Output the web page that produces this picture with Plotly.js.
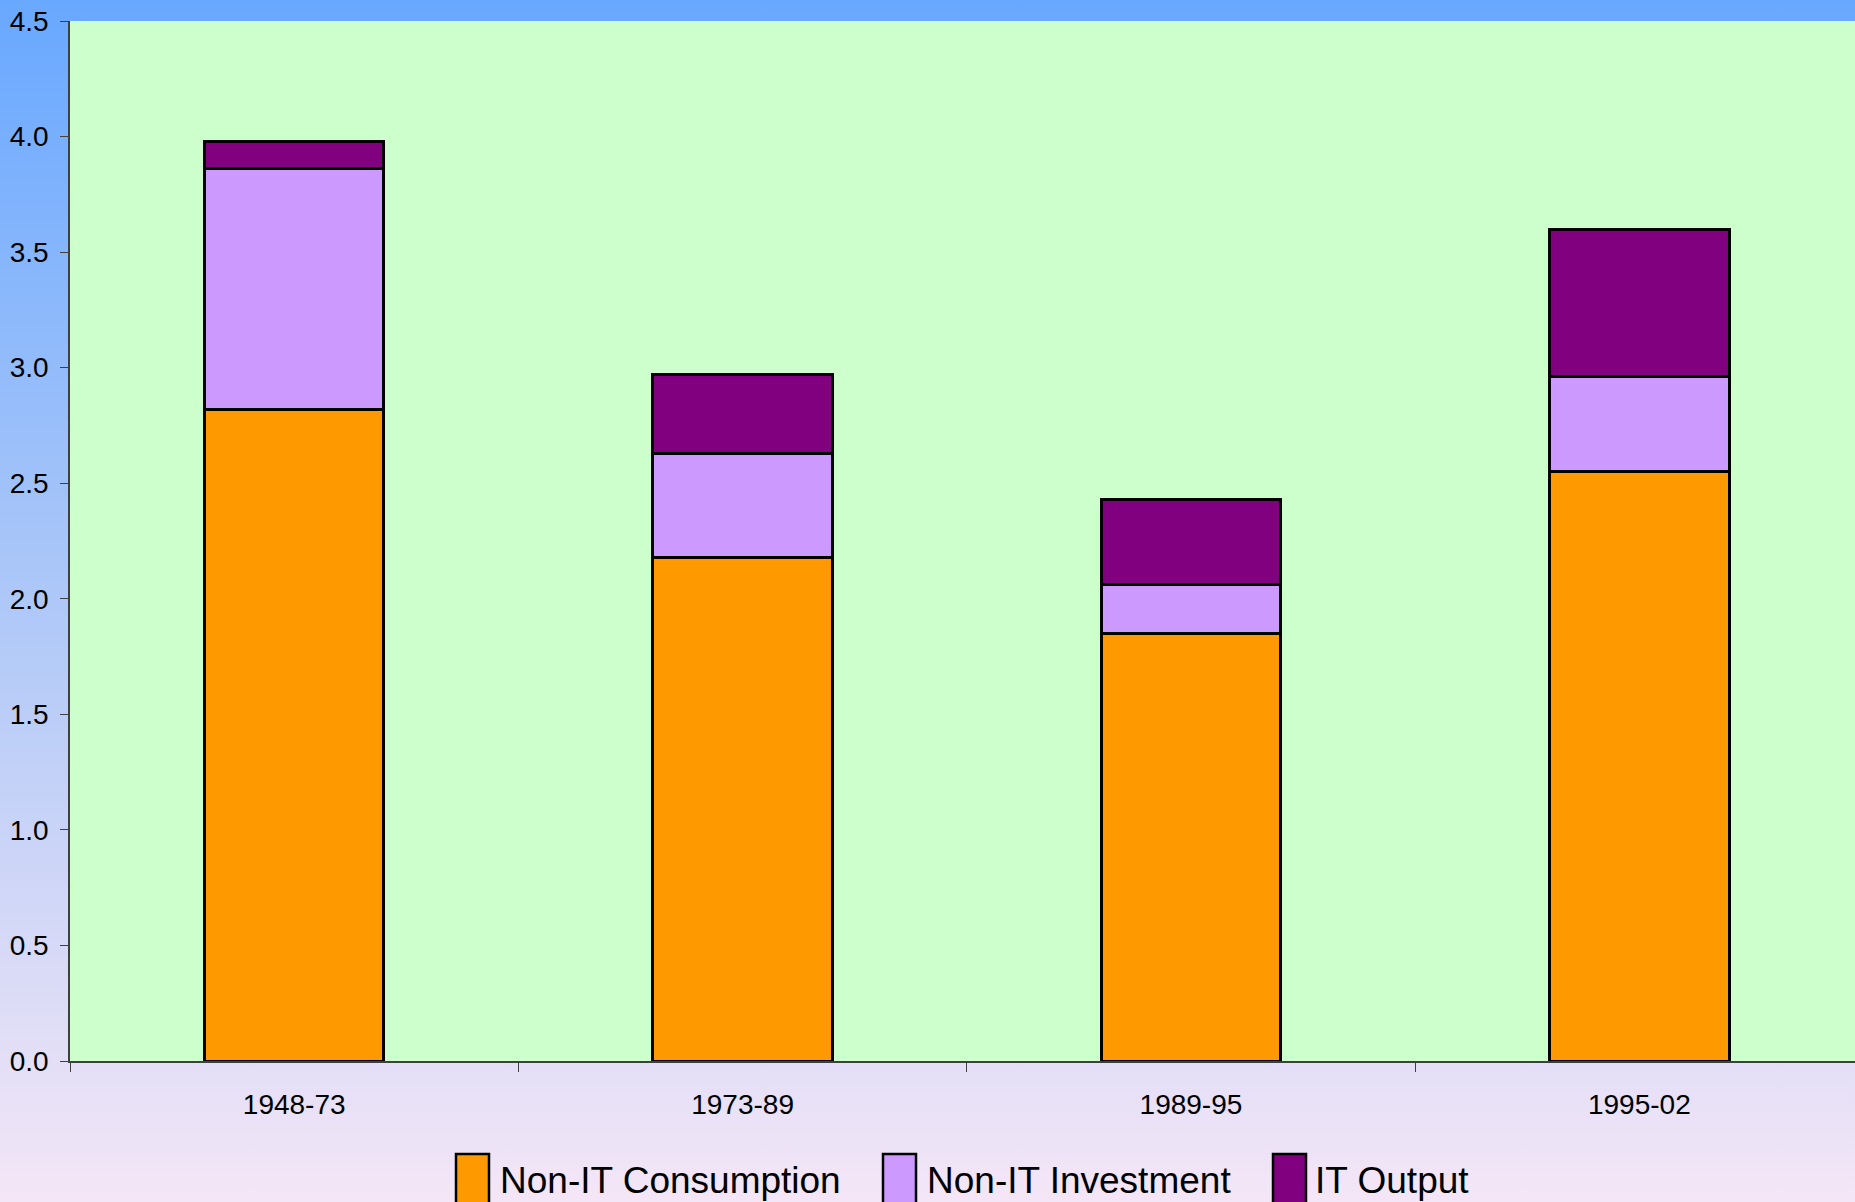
<!DOCTYPE html>
<html>
<head>
<meta charset="utf-8">
<script src="https://cdn.plot.ly/plotly-3.0.1.min.js"></script>
<style>
  html, body { margin: 0; padding: 0; }
  body { width: 1855px; height: 1202px; overflow: hidden;
         background: linear-gradient(to bottom, #68a8ff 0%, #aec8f8 50%, #f4e6f6 100%); }
  #chart { width: 1855px; height: 1202px; }
</style>
</head>
<body>
<div id="chart"></div>
<script>
const categories = ['1948-73', '1973-89', '1989-95', '1995-02'];
const seriesNames = ['Non-IT Consumption', 'Non-IT Investment', 'IT Output'];
const nonITConsumption = [2.82, 2.18, 1.85, 2.55];
const nonITInvestment = [1.04, 0.45, 0.21, 0.41];
const itOutput = [0.12, 0.34, 0.37, 0.64];
const seriesColors = ['#ff9900', '#cc99ff', '#800080'];
const yTickVals = [0, 0.5, 1, 1.5, 2, 2.5, 3, 3.5, 4, 4.5];

const seriesValues = [nonITConsumption, nonITInvestment, itOutput];
const traces = seriesValues.map((vals, i) => ({
  type: 'bar',
  name: seriesNames[i],
  x: categories,
  y: vals,
  marker: { color: seriesColors[i], line: { color: '#000000', width: 3 } },
  hoverinfo: 'x+y+name'
}));

// Legend drawn as paper-positioned swatches + text (tall swatches like the original)
const plotLeft = 70, plotRight = 1855, plotTop = 21, plotBottom = 1061;
const px2x = p => (p - plotLeft) / (plotRight - plotLeft);
const px2y = p => (plotBottom - p) / (plotBottom - plotTop);
const legendSwatchX = [456, 883, 1273];
const legendTextX = [498, 925, 1313];
const shapes = legendSwatchX.map((sx, i) => ({
  type: 'rect', xref: 'paper', yref: 'paper',
  x0: px2x(sx), x1: px2x(sx + 33),
  y0: px2y(1220), y1: px2y(1154),
  fillcolor: seriesColors[i],
  line: { color: '#000000', width: 2.5 }
}));
const annotations = legendTextX.map((tx, i) => ({
  xref: 'paper', yref: 'paper',
  x: px2x(tx), y: px2y(1180),
  xanchor: 'left', yanchor: 'middle',
  text: seriesNames[i], showarrow: false,
  font: { family: '"Liberation Sans", Arial, sans-serif', size: 37, color: '#000000' }
}));

const layout = {
  width: 1855, height: 1202,
  margin: { l: plotLeft, r: 0, t: plotTop, b: 1202 - plotBottom, pad: 0 },
  paper_bgcolor: 'rgba(0,0,0,0)',
  plot_bgcolor: '#ccffcc',
  barmode: 'stack',
  bargap: 0.6,
  showlegend: false,
  font: { family: '"Liberation Sans", Arial, sans-serif', color: '#000000' },
  xaxis: {
    type: 'category',
    range: [-0.5, 3.481],
    showgrid: false, zeroline: false,
    showline: true, linecolor: '#404040', linewidth: 1.5,
    ticks: 'outside', tickson: 'boundaries', ticklen: 9, tickcolor: '#404040', tickwidth: 1.2,
    tickfont: { size: 28, family: '"Liberation Sans", Arial, sans-serif', color: '#000000' },
    ticklabelstandoff: 18
  },
  yaxis: {
    range: [0, 4.5],
    tickvals: yTickVals,
    tickformat: '.1f',
    showgrid: false, zeroline: false,
    showline: true, linecolor: '#404040', linewidth: 1.5,
    ticks: 'outside', ticklen: 8, tickcolor: '#404040', tickwidth: 1.2,
    tickfont: { size: 28, family: '"Liberation Sans", Arial, sans-serif', color: '#000000' },
    ticklabelstandoff: 6
  },
  shapes: shapes,
  annotations: annotations
};

Plotly.newPlot('chart', traces, layout, { displayModeBar: false, staticPlot: false });
</script>
</body>
</html>
